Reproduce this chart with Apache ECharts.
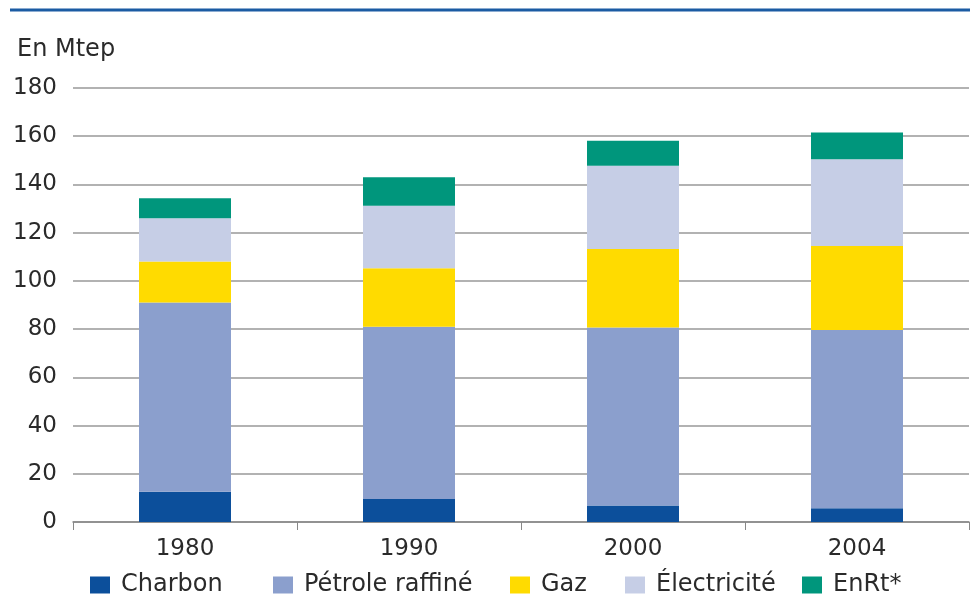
<!DOCTYPE html>
<html>
<head>
<meta charset="utf-8">
<script src="https://cdn.jsdelivr.net/npm/echarts@6/dist/echarts.min.js"></script>
<style>
  html, body { margin: 0; padding: 0; background: #fff; }
  #chart { width: 970px; height: 596px; }
</style>
</head>
<body>
<div id="chart"></div>
<script>
// années
var years = ['1980', '1990', '2000', '2004'];
// valeurs en Mtep (empilées)
var charbon = [12.5, 9.5, 6.8, 5.7];
var petrole = [78.5, 71.5, 73.9, 73.9];
var gaz = [17, 24.2, 32.5, 34.9];
var electricite = [18, 26, 34.6, 35.9];
var enrt = [8.3, 11.8, 10.3, 11.1];
var yTicks = [0, 20, 40, 60, 80, 100, 120, 140, 160, 180];
var names = ['Charbon', 'Pétrole raffiné', 'Gaz', 'Électricité', 'EnRt*'];

var font = 'DejaVu Sans';
var textColor = '#2a2a2a';
var myChart = echarts.init(document.getElementById('chart'));

function serie(name, data, color) {
	return {
		name: name,
		type: 'bar',
		stack: 'total',
		barWidth: 92,
		itemStyle: { color: color },
		data: data
	};
}

// une légende par entrée pour caler chaque carré comme sur l'original
var legendLeft = [90, 273, 510, 625, 802];
var legends = [];
for (var i = 0; i < names.length; i++) {
	legends.push({
		top: 573,
		left: legendLeft[i],
		padding: 0,
		itemWidth: 20,
		itemHeight: 17,
		icon: 'rect',
		textStyle: { fontSize: 24, color: textColor, fontFamily: font, padding: [0, 0, 0, 6] },
		data: [names[i]]
	});
}

var option = {
	backgroundColor: '#fff',
	animation: false,
	textStyle: { fontFamily: font },
	title: {
		text: 'En Mtep',
		left: 12,
		top: 33,
		textStyle: { fontSize: 24, fontWeight: 'normal', color: textColor, fontFamily: font }
	},
	graphic: [{
		type: 'line',
		shape: { x1: 10, y1: 10, x2: 970, y2: 10 },
		style: { stroke: '#1b5ba3', lineWidth: 3 }
	}],
	legend: legends,
	grid: { left: 73, right: 1, top: 88, bottom: 74 },
	xAxis: {
		type: 'category',
		data: years,
		axisLine: { lineStyle: { color: '#888', width: 1.5 } },
		axisTick: { show: true, length: 8, lineStyle: { color: '#888' } },
		axisLabel: { fontSize: 23, color: textColor, margin: 16 }
	},
	yAxis: {
		type: 'value',
		min: yTicks[0],
		max: yTicks[yTicks.length - 1],
		interval: 20,
		axisLine: { show: false },
		axisTick: { show: false },
		axisLabel: { fontSize: 23, color: textColor, margin: 16 },
		splitLine: { lineStyle: { color: '#999', width: 1.5 } }
	},
	series: [
		serie(names[0], charbon, '#0c4f9b'),
		serie(names[1], petrole, '#8b9fcd'),
		serie(names[2], gaz, '#ffdb00'),
		serie(names[3], electricite, '#c6cee6'),
		serie(names[4], enrt, '#00967c')
	]
};

myChart.setOption(option);
</script>
</body>
</html>
